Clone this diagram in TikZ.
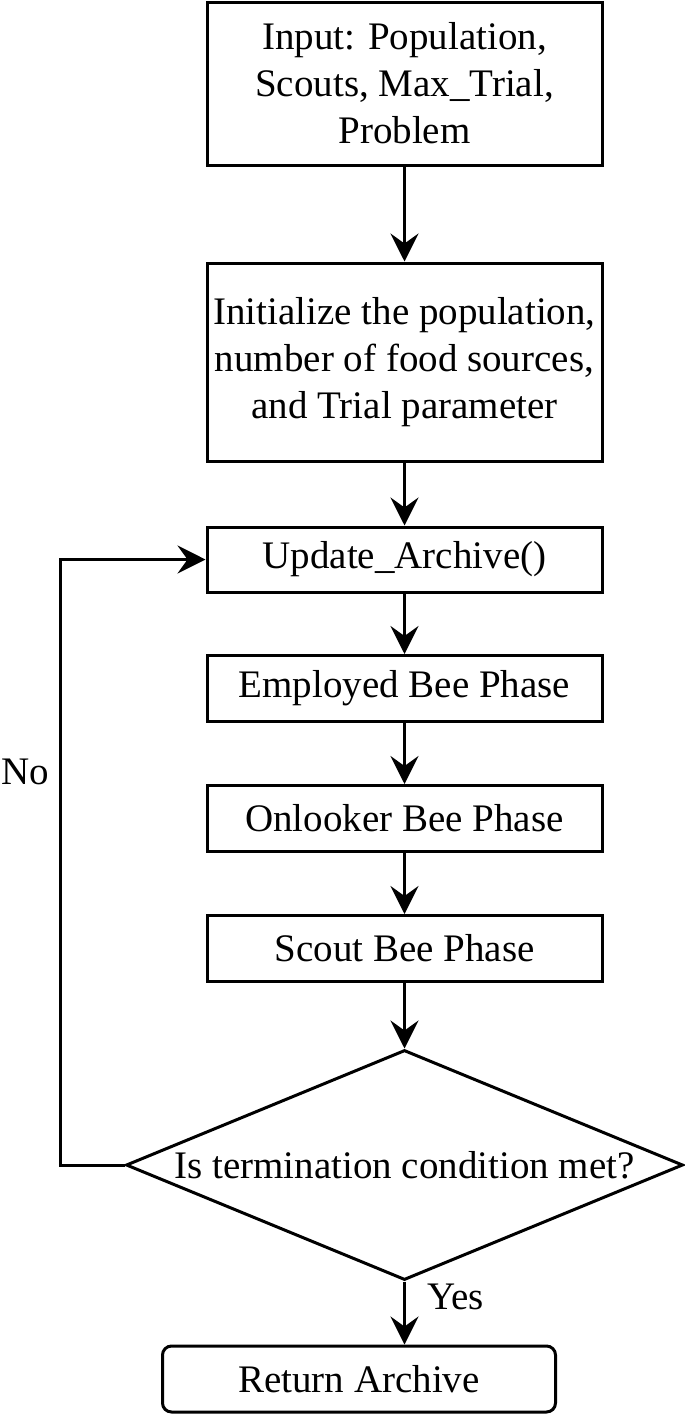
\documentclass[tikz,border=0pt]{standalone}
\usepackage{fontspec}
\setmainfont{Liberation Serif}
\usetikzlibrary{positioning,shapes.geometric,arrows.meta}

\begin{document}
\begin{tikzpicture}[x=1pt, y=-1pt, line width=3pt,
    block/.style = {draw, rectangle, minimum width=395pt, inner sep=0pt, align=center},
    cond/.style = {draw, diamond, minimum width=557pt, minimum height=230pt, inner sep=0pt, aspect=2.4},
    ending/.style = {draw, rectangle, rounded corners=9pt, minimum width=393pt, minimum height=66pt, inner sep=0pt},
    flow/.style = {-{Stealth[length=28pt, width=28pt, inset=10pt]}},
    font=\fontsize{39}{47}\selectfont]
  \useasboundingbox (0,0) rectangle (685,1414);

  \node[block] (I) at (404.5,83.5) [minimum height=163pt] {Input: Population,\\Scouts, Max\_Trial,\\Problem};
  \node[block] (N) [below of=I, node distance=278.5pt, minimum height=198pt] {Initialize the population,\\number of food sources,\\and Trial parameter};
  \node[block] (U) [below of=N, node distance=197.5pt, minimum height=65pt] {Update\_Archive()};
  \node[block] (E) [below of=U, node distance=129pt, minimum height=66pt] {Employed Bee Phase};
  \node[block] (O) [below of=E, node distance=130pt, minimum height=66pt] {Onlooker Bee Phase};
  \node[block] (S) [below of=O, node distance=130pt, minimum height=66pt] {Scout Bee Phase};

  \node[cond] (D) [below of=S, node distance=216.5pt] {Is termination condition met?};
  \node[ending] (R) [below of=D, node distance=214pt, xshift=-45.5pt] {Return Archive};

  \draw[flow] (I) -- (N);
  \draw[flow] (N) -- (U);
  \draw[flow] (U) -- (E);
  \draw[flow] (E) -- (O);
  \draw[flow] (O) -- (S);
  \draw[flow] (S) -- (D);
  \draw[flow] (D.south) -- node[pos=0.25, right, xshift=18pt] {Yes} (D.south |- R.north);
  \draw[flow] (D.west) -- ++(-64,0) |- node[pos=0.325, left, xshift=-7pt] {No} (U.west);
\end{tikzpicture}
\end{document}
